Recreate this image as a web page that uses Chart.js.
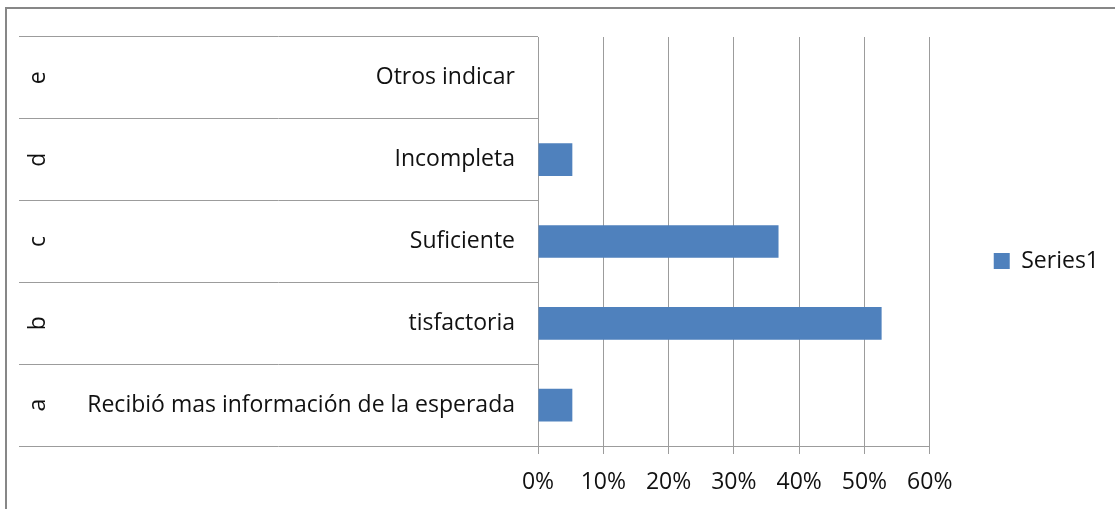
<!DOCTYPE html>
<html>
<head>
<meta charset="utf-8">
<title>Series1</title>
<script src="https://cdn.jsdelivr.net/npm/chart.js@4/dist/chart.umd.min.js"></script>
<style>
  html, body { margin: 0; padding: 0; background: #ffffff; overflow: hidden; }
  /* marco gris del grafico, cortado a la derecha y abajo */
  #frame {
    position: absolute; left: 5px; top: 7px;
    width: 1300px; height: 700px;
    border: 2px solid #878787;
  }
  #wrap { position: absolute; left: 0; top: 0; width: 1115px; height: 509px; }
</style>
</head>
<body>
<div id="frame"></div>
<div id="wrap"><canvas id="bar1"></canvas></div>

<script>
// datos del grafico
var letters = ['a', 'b', 'c', 'd', 'e'];
var answers = ['Recibió mas información de la esperada', 'tisfactoria', 'Suficiente', 'Incompleta', 'Otros indicar'];
var series1 = [5.26, 52.63, 36.84, 5.26, 0];
var pctTicks = ['0%', '10%', '20%', '30%', '40%', '50%', '60%'];

var FONT = '"Open Sans", sans-serif';
var GRID = '#9c9c9c';
var TXT = '#111111';

// etiquetas del segundo nivel (letras giradas)
var outerLabels = {
	id: 'outerLabels',
	afterDraw: function(chart) {
		var ctx = chart.ctx;
		var y = chart.scales.y;
		ctx.save();
		ctx.fillStyle = TXT;
		ctx.font = '23px ' + FONT;
		ctx.textAlign = 'center';
		ctx.textBaseline = 'middle';
		for (var i = 0; i < letters.length; i++) {
			ctx.save();
			ctx.translate(38, y.getPixelForValue(i));
			ctx.rotate(-Math.PI / 2);
			ctx.fillText(letters[i], 0, 0);
			ctx.restore();
		}
		ctx.restore();
	}
};

var hidden = {
	display: true,
	ticks: { display: false },
	grid: { display: false },
	border: { display: false }
};

var ctx = document.getElementById('bar1').getContext('2d');
var chart = new Chart(ctx, {
	type: 'bar',
	data: {
		labels: answers,
		datasets: [{
			label: 'Series1',
			data: series1,
			backgroundColor: '#4f81bd',
			borderWidth: 0,
			categoryPercentage: 0.4,
			barPercentage: 1
		}]
	},
	options: {
		indexAxis: 'y',
		responsive: true,
		maintainAspectRatio: false,
		animation: false,
		layout: { padding: { left: 19, top: 25, right: 6, bottom: 12 } },
		plugins: {
			tooltip: { enabled: false },
			legend: {
				position: 'right',
				labels: {
					boxWidth: 16, boxHeight: 16, padding: 10,
					color: TXT,
					font: { family: FONT, size: 23 }
				}
			}
		},
		scales: {
			x: {
				min: 0, max: 60,
				afterFit: function(s) { s.height = 51; },
				ticks: {
					stepSize: 10,
					padding: 15,
					color: TXT,
					font: { family: FONT, size: 23 },
					callback: function(v, i) { return pctTicks[i]; }
				},
				grid: { color: GRID, lineWidth: 1, tickLength: 8 },
				border: { color: GRID, width: 1 }
			},
			y: {
				reverse: true,
				afterFit: function(s) { s.width = 519; },
				ticks: {
					padding: -496,
					color: TXT,
					font: { family: FONT, size: 23 }
				},
				grid: { offset: true, drawOnChartArea: false, color: GRID, lineWidth: 1, tickLength: 519 },
				border: { color: GRID, width: 1 }
			},
			// huecos: arriba y a la derecha del area de trazado
			x2: Object.assign({ position: 'top', afterFit: function(s) { s.height = 12; } }, hidden),
			y2: Object.assign({ position: 'right', afterFit: function(s) { s.width = 54; } }, hidden)
		}
	},
	plugins: [outerLabels]
});
</script>
</body>
</html>
